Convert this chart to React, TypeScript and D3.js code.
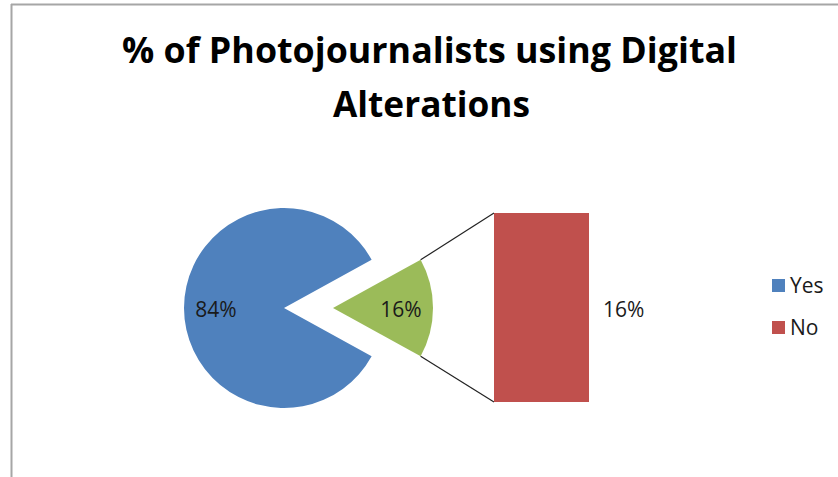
import React from "react";
import * as d3 from "d3";

const title = ["% of Photojournalists using Digital", "Alterations"];
const categories = ["Yes", "No"];
const values = [84, 16];
const colors = ["#4F81BD", "#C0504D"];
const otherColor = "#9BBB59";

const W = 838;
const H = 477;

export default function App() {
  const total = d3.sum(values);
  const share = values[1] / total;
  const cx = 284;
  const cy = 308;
  const r = 100;
  const explode = 49;
  const start = Math.PI / 2 - share * Math.PI;
  const pie = d3
    .pie<number>()
    .sort(null)
    .startAngle(start)
    .endAngle(start + 2 * Math.PI);
  const arcs = pie([values[1], values[0]]);
  const arcGen = d3.arc<d3.PieArcDatum<number>>().innerRadius(0).outerRadius(r);
  const otherArc = arcs[0];
  const mainArc = arcs[1];
  const ox = cx + explode;

  const labelR = 68;
  const mainMid = (mainArc.startAngle + mainArc.endAngle) / 2;
  const otherMid = (otherArc.startAngle + otherArc.endAngle) / 2;

  const barX0 = 494;
  const barW = 95;
  const y = d3.scaleLinear().domain([0, values[1]]).range([402, 213]);

  const topPt = [ox + r * Math.sin(otherArc.startAngle), cy - r * Math.cos(otherArc.startAngle)];
  const botPt = [ox + r * Math.sin(otherArc.endAngle), cy - r * Math.cos(otherArc.endAngle)];

  const pct = (v: number) => `${Math.round((v / total) * 100)}%`;
  const labelFont = "'Open Sans', sans-serif";

  return (
    <svg
      width={W}
      height={H}
      style={{ position: "absolute", left: 0, top: 0, background: "#fff" }}
    >
      <rect x={0} y={0} width={W} height={H} fill="#fff" />
      <line x1={11} y1={4.5} x2={W} y2={4.5} stroke="#a6a6a6" strokeWidth={2} />
      <line x1={11.5} y1={4} x2={11.5} y2={H} stroke="#a6a6a6" strokeWidth={2} />

      <text
        x={429.5}
        y={63.3}
        textAnchor="middle"
        fontFamily={labelFont}
        fontWeight={700}
        fontSize={36}
        textLength={615}
        lengthAdjust="spacingAndGlyphs"
        fill="#000"
      >
        {title[0]}
      </text>
      <text
        x={431.5}
        y={117.3}
        textAnchor="middle"
        fontFamily={labelFont}
        fontWeight={700}
        fontSize={36}
        textLength={197}
        lengthAdjust="spacingAndGlyphs"
        fill="#000"
      >
        {title[1]}
      </text>

      <path d={arcGen(mainArc) || ""} transform={`translate(${cx},${cy})`} fill={colors[0]} />
      <path d={arcGen(otherArc) || ""} transform={`translate(${ox},${cy})`} fill={otherColor} />

      <line x1={topPt[0]} y1={topPt[1]} x2={barX0} y2={y(values[1])} stroke="#222" strokeWidth={1.2} />
      <line x1={botPt[0]} y1={botPt[1]} x2={barX0} y2={y(0)} stroke="#222" strokeWidth={1.2} />

      <rect
        x={barX0}
        y={y(values[1])}
        width={barW}
        height={y(0) - y(values[1])}
        fill={colors[1]}
      />

      <text
        x={cx + labelR * Math.sin(mainMid)}
        y={317}
        textAnchor="middle"
        fontFamily={labelFont}
        fontSize={21}
        fill="#1a1a1a"
      >
        {pct(values[0])}
      </text>
      <text
        x={ox + labelR * Math.sin(otherMid)}
        y={317}
        textAnchor="middle"
        fontFamily={labelFont}
        fontSize={21}
        fill="#1a1a1a"
      >
        {pct(values[1])}
      </text>
      <text x={603} y={317} textAnchor="start" fontFamily={labelFont} fontSize={21} fill="#1a1a1a">
        {pct(values[1])}
      </text>

      {categories.map((c, i) => (
        <g key={c} transform={`translate(772,${279 + i * 42})`}>
          <rect x={0} y={0} width={13} height={13} fill={colors[i]} />
          <text x={18} y={13.5} fontFamily={labelFont} fontSize={21} fill="#1a1a1a">
            {c}
          </text>
        </g>
      ))}
    </svg>
  );
}
